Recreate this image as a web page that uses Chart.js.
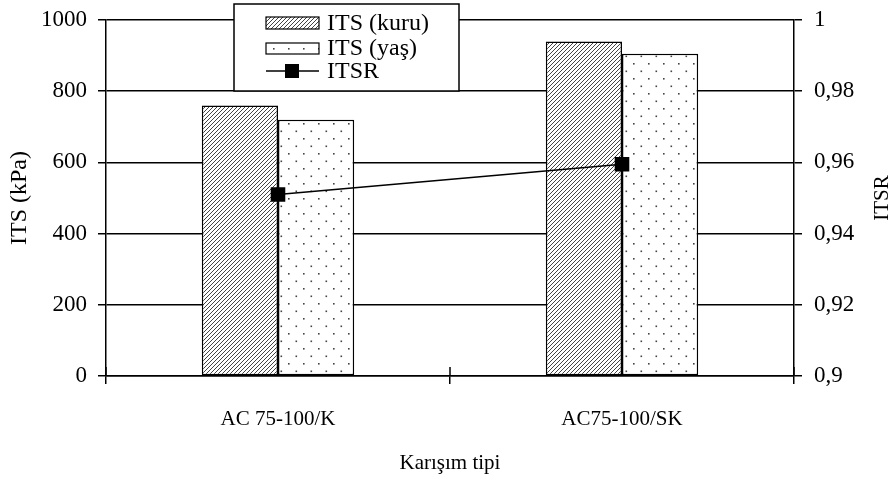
<!DOCTYPE html>
<html>
<head>
<meta charset="utf-8">
<script src="https://cdn.jsdelivr.net/npm/chart.js@4/dist/chart.umd.min.js"></script>
<style>
html,body{margin:0;padding:0;background:#fff;}
#wrap{width:892px;height:481px;position:relative;}
</style>
</head>
<body>
<div id="wrap"><canvas id="c" width="892" height="481"></canvas></div>
<script>
const categories = ['AC 75-100/K', 'AC75-100/SK'];
const itsKuru = [760, 940];
const itsYas = [720, 905];
const itsr = [0.951, 0.9595];
const seriesNames = ['ITS (kuru)', 'ITS (yaş)', 'ITSR'];
const leftTicks = ['0', '200', '400', '600', '800', '1000'];
const rightTicks = ['0,9', '0,92', '0,94', '0,96', '0,98', '1'];
const rightTitle = 'ITSR';

const FONT = '"Liberation Serif", "Times New Roman", serif';

function hatchPattern() {
  const c = document.createElement('canvas');
  c.width = 4; c.height = 4;
  const x = c.getContext('2d');
  x.fillStyle = '#fff'; x.fillRect(0, 0, 4, 4);
  x.strokeStyle = '#444'; x.lineWidth = 1;
  x.beginPath();
  x.moveTo(-1, 5); x.lineTo(5, -1);
  x.moveTo(-1, 1); x.lineTo(1, -1);
  x.moveTo(3, 5); x.lineTo(5, 3);
  x.stroke();
  return x.createPattern(c, 'repeat');
}
function dotPattern() {
  const c = document.createElement('canvas');
  c.width = 15; c.height = 15;
  const x = c.getContext('2d');
  x.fillStyle = '#fff'; x.fillRect(0, 0, 15, 15);
  x.fillStyle = '#444';
  x.fillRect(3, 3, 1.6, 1.6);
  x.fillRect(10.5, 10.5, 1.6, 1.6);
  return x.createPattern(c, 'repeat');
}
const hatch = hatchPattern();
const dots = dotPattern();

const extraPlugin = {
  id: 'extra',
  afterDraw(chart) {
    const ctx = chart.ctx;
    const xs = chart.scales.x;
    const y1 = chart.scales.y1;
    const ca = chart.chartArea;
    const half = (xs.getPixelForValue(1) - xs.getPixelForValue(0)) / 2;
    ctx.save();
    ctx.strokeStyle = '#000'; ctx.lineWidth = 1.5;
    for (let i = 0; i <= categories.length; i++) {
      const px = xs.getPixelForValue(0) - half + i * 2 * half;
      ctx.beginPath(); ctx.moveTo(px, ca.bottom); ctx.lineTo(px, ca.bottom - 9); ctx.stroke();
    }
    // right axis title, reading bottom-to-top
    ctx.save();
    ctx.translate(y1.right - 10, (ca.top + ca.bottom) / 2);
    ctx.rotate(-Math.PI / 2);
    ctx.font = '21px ' + FONT;
    ctx.fillStyle = '#000';
    ctx.textAlign = 'center';
    ctx.textBaseline = 'middle';
    ctx.fillText(rightTitle, 0, 0);
    ctx.restore();
    // legend
    const lx = 234, ly = 4, lw = 225, lh = 87;
    ctx.fillStyle = '#fff';
    ctx.fillRect(lx, ly, lw, lh);
    ctx.strokeStyle = '#000'; ctx.lineWidth = 1.5;
    ctx.strokeRect(lx, ly, lw, lh);
    const rows = [23, 48, 71];
    ctx.lineWidth = 1.2;
    ctx.fillStyle = hatch; ctx.fillRect(266, rows[0] - 6, 53, 12); ctx.strokeRect(266, rows[0] - 6, 53, 12);
    ctx.fillStyle = dots; ctx.fillRect(266, rows[1] - 5, 53, 11); ctx.strokeRect(266, rows[1] - 5, 53, 11);
    ctx.lineWidth = 1.5;
    ctx.beginPath(); ctx.moveTo(266, rows[2]); ctx.lineTo(319, rows[2]); ctx.stroke();
    ctx.fillStyle = '#000'; ctx.fillRect(285, rows[2] - 7, 14, 14);
    ctx.font = '24px ' + FONT;
    ctx.textBaseline = 'middle';
    ctx.textAlign = 'left';
    seriesNames.forEach((n, i) => ctx.fillText(n, 327, rows[i] + 1));
    ctx.restore();
  }
};

new Chart(document.getElementById('c'), {
  type: 'bar',
  data: {
    labels: categories,
    datasets: [
      { type: 'line', label: seriesNames[2], data: itsr, yAxisID: 'y1', borderColor: '#000', borderWidth: 1.5,
        pointStyle: 'rect', pointRadius: 10.3, pointBackgroundColor: '#000', pointBorderColor: '#000', pointBorderWidth: 0, order: 0 },
      { label: seriesNames[0], data: itsKuru, yAxisID: 'y', backgroundColor: hatch, borderColor: '#000', borderWidth: 1.5, borderSkipped: false, order: 1 },
      { label: seriesNames[1], data: itsYas, yAxisID: 'y', backgroundColor: dots, borderColor: '#000', borderWidth: 1.5, borderSkipped: false, order: 1 }
    ]
  },
  options: {
    responsive: false,
    animation: false,
    devicePixelRatio: 1,
    layout: { padding: { top: 18, right: 0, left: 0, bottom: 0 } },
    datasets: { bar: { barPercentage: 1, categoryPercentage: 0.443 } },
    plugins: { legend: { display: false }, tooltip: { enabled: false } },
    scales: {
      x: {
        offset: true,
        grid: { offset: true, drawOnChartArea: false, color: '#000', lineWidth: 1.5, tickLength: 8 },
        border: { color: '#000', width: 1.5 },
        ticks: { color: '#000', font: { family: FONT, size: 21 }, padding: 23 },
        title: { display: true, text: 'Karışım tipi', color: '#000', font: { family: FONT, size: 21 }, padding: { top: 0, bottom: 5 } },
        afterFit(s) { s.height = 105; }
      },
      y: {
        position: 'left', min: 0, max: 1000,
        afterBuildTicks(s) { s.ticks = leftTicks.map((t, i) => ({ value: i * 200 })); },
        grid: { color: '#000', lineWidth: 1.5, tickLength: 8 },
        border: { color: '#000', width: 1.5 },
        ticks: { color: '#000', font: { family: FONT, size: 23, lineHeight: 0.7 }, padding: 11, callback: (v, i) => leftTicks[i] },
        title: { display: true, text: 'ITS (kPa)', color: '#000', font: { family: FONT, size: 24, lineHeight: 1 }, padding: { top: 8 } },
        afterFit(s) { s.width = 106; }
      },
      y1: {
        position: 'right', min: 0.9, max: 1,
        afterBuildTicks(s) { s.ticks = rightTicks.map((t, i) => ({ value: 0.9 + i * 0.02 })); },
        grid: { drawOnChartArea: false, color: '#000', lineWidth: 1.5, tickLength: 8 },
        border: { color: '#000', width: 1.5 },
        ticks: { color: '#000', font: { family: FONT, size: 23, lineHeight: 0.7 }, padding: 12, callback: (v, i) => rightTicks[i] },
        afterFit(s) { s.width = 98; }
      }
    }
  },
  plugins: [extraPlugin]
});
</script>
</body>
</html>
